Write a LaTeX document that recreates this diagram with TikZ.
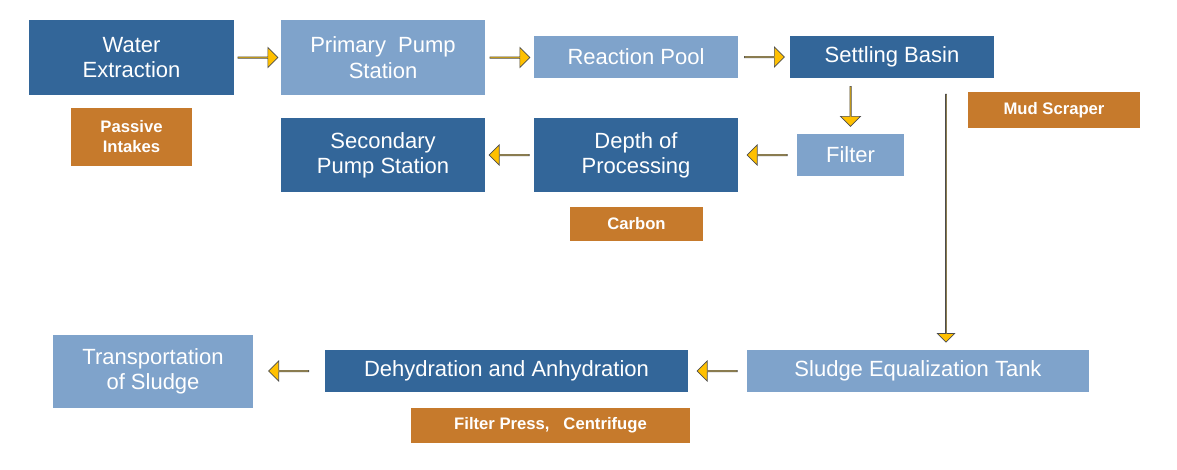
\documentclass[tikz,border=0pt]{standalone}
\usepackage{fontspec}
\setmainfont{Liberation Sans}
\usetikzlibrary{shapes.arrows}
\definecolor{darkbox}{HTML}{336699}
\definecolor{lightbox}{HTML}{7FA3CB}
\definecolor{tagbox}{HTML}{C67A2C}
\definecolor{flowyellow}{HTML}{FFC000}
\tikzset{
  box/.style={inner sep=0pt, align=center, text=white, font=\fontsize{16.5}{19}\selectfont},
  darkstep/.style={box, fill=darkbox},
  lightstep/.style={box, fill=lightbox},
  tag/.style={box, fill=tagbox, font=\bfseries\fontsize{12.5}{15}\selectfont},
  flow/.style={single arrow, fill=flowyellow, draw=black!70, line width=0.5pt,
    minimum width=15pt, single arrow head extend=3.5pt, inner sep=0pt,
    single arrow tip angle=90},
}
\newcommand{\boxat}[6]{% style, name, x1, y1, x2, y2
  \node[#1, minimum width={(#5-#3)*0.75pt}, minimum height={(#6-#4)*0.75pt}] (#2) at ({(#3+#5)/2},{(#4+#6)/2})}
\begin{document}
\begin{tikzpicture}[x=0.75pt, y=-0.75pt]
  \useasboundingbox (0,0) rectangle (1177,469);
  % top row
  \boxat{darkstep}{we}{29}{20}{234}{95} {Water\\Extraction};
  \boxat{lightstep}{pps}{281}{20}{485}{95} {Primary\ \ Pump\\Station};
  \boxat{lightstep}{rp}{534}{36}{738}{78} {Reaction Pool};
  \boxat{darkstep}{sb}{790}{36}{994}{78} {Settling Basin};
  \boxat{tag}{pi}{71}{108}{192}{166} {Passive\\Intakes};
  \boxat{tag}{ms}{968}{92}{1140}{128} {Mud Scraper};
  % middle row
  \boxat{darkstep}{sps}{281}{118}{485}{192} {Secondary\\Pump Station};
  \boxat{darkstep}{dop}{534}{118}{738}{192} {Depth of\\Processing};
  \boxat{lightstep}{fi}{797}{134}{904}{176} {Filter};
  \boxat{tag}{ca}{570}{207}{703}{241} {Carbon};
  % bottom row
  \boxat{lightstep}{ts}{53}{335}{253}{408} {Transportation\\of Sludge};
  \boxat{darkstep}{da}{325}{350}{688}{392} {Dehydration and Anhydration};
  \boxat{lightstep}{se}{747}{350}{1089}{392} {Sludge Equalization Tank};
  \boxat{tag}{fp}{411}{408}{690}{443} {Filter Press,\ \ \ Centrifuge};
  % flow arrows
  \path (we.east) -- (pps.west) node[midway, flow, minimum height=30pt] {};
  \path (pps.east) -- (rp.west |- pps.east) node[midway, flow, minimum height=30pt] {};
  \path (rp.east) -- (sb.west) node[midway, flow, minimum height=30pt] {};
  \path (sb.south -| fi.north) -- (fi.north) node[midway, flow, minimum height=30pt, rotate=-90] {};
  \path (fi.west) -- (dop.east |- fi.west) node[midway, flow, minimum height=30pt, rotate=180] {};
  \path (dop.west) -- (sps.east) node[midway, flow, minimum height=30pt, rotate=180] {};
  \coordinate (drop) at (946,86);
  \path (drop) -- (drop |- se.north) node[midway, flow, minimum height=186pt, minimum width=13pt, rotate=-90] {};
  \path (se.west) -- (da.east) node[midway, flow, minimum height=30pt, rotate=180] {};
  \path (da.west) -- (ts.east |- da.west) node[midway, flow, minimum height=30pt, rotate=180] {};
\end{tikzpicture}
\end{document}
